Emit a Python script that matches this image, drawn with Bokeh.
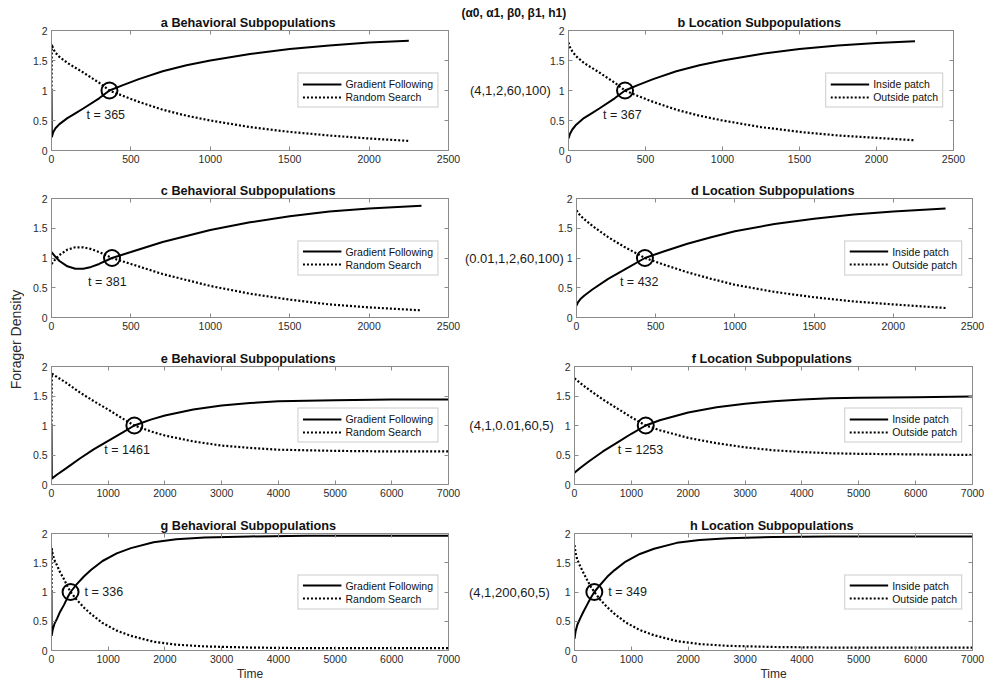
from math import pi
from bokeh.plotting import figure
from bokeh.models import Range1d, LinearAxis, FixedTicker, NumeralTickFormatter, Label, Title
from bokeh.layouts import row, column
from bokeh.core.properties import value
from bokeh.embed import file_html
from bokeh.resources import INLINE

# ---------------- data ----------------
HEADER = "(\u03b10, \u03b11, \u03b20, \u03b21, h1)"
PARAMS = ["(4,1,2,60,100)", "(0.01,1,2,60,100)", "(4,1,0.01,60,5)", "(4,1,200,60,5)"]
TITLES = ["a  Behavioral Subpopulations", "b  Location Subpopulations",
          "c  Behavioral Subpopulations", "d  Location Subpopulations",
          "e  Behavioral Subpopulations", "f  Location Subpopulations",
          "g  Behavioral Subpopulations", "h  Location Subpopulations"]
LEGEND_BEHAV = ["Gradient Following", "Random Search"]
LEGEND_LOC = ["Inside patch", "Outside patch"]
Y_TICKS = [0, 0.5, 1, 1.5, 2]
X_TICKS_SHORT = [0, 500, 1000, 1500, 2000, 2500]
X_TICKS_LONG = [0, 1000, 2000, 3000, 4000, 5000, 6000, 7000]
X_MAX = [2500, 2500, 2500, 2500, 7000, 7000, 7000, 7000]
CROSS_T = [365, 367, 381, 432, 1461, 1253, 336, 349]
CROSS_Y = [1, 1, 1, 1, 1, 1, 1, 1]

T_A = [0, 2, 10, 25, 50, 100, 150, 200, 300, 365, 450, 550, 700, 850, 1000, 1250, 1500, 1750, 2000, 2250]
GF_A = [1.0, 0.22, 0.30, 0.37, 0.44, 0.54, 0.62, 0.70, 0.87, 1.0, 1.09, 1.19, 1.32, 1.42, 1.50, 1.61, 1.69, 1.75, 1.80, 1.83]
RS_A = [1.0, 1.77, 1.70, 1.63, 1.56, 1.46, 1.38, 1.30, 1.13, 1.0, 0.91, 0.81, 0.68, 0.58, 0.50, 0.39, 0.31, 0.25, 0.20, 0.16]

T_B = [0, 10, 25, 50, 100, 150, 200, 300, 367, 450, 550, 700, 850, 1000, 1250, 1500, 1750, 2000, 2250]
IN_B = [0.2, 0.28, 0.35, 0.43, 0.54, 0.62, 0.70, 0.87, 1.0, 1.09, 1.19, 1.32, 1.42, 1.50, 1.61, 1.69, 1.75, 1.79, 1.82]
OUT_B = [1.8, 1.72, 1.65, 1.57, 1.46, 1.38, 1.30, 1.13, 1.0, 0.91, 0.81, 0.68, 0.58, 0.50, 0.39, 0.31, 0.25, 0.21, 0.17]

T_C = [0, 25, 50, 100, 150, 200, 250, 300, 381, 500, 700, 1000, 1250, 1500, 1750, 2000, 2330]
GF_C = [1.10, 1.02, 0.95, 0.86, 0.82, 0.82, 0.85, 0.90, 1.0, 1.10, 1.27, 1.47, 1.60, 1.70, 1.78, 1.83, 1.88]
RS_C = [0.90, 0.98, 1.05, 1.14, 1.18, 1.18, 1.15, 1.10, 1.0, 0.90, 0.73, 0.53, 0.40, 0.30, 0.22, 0.17, 0.12]

T_D = [0, 10, 25, 50, 100, 200, 300, 432, 550, 700, 850, 1000, 1250, 1500, 1750, 2000, 2330]
IN_D = [0.2, 0.26, 0.31, 0.37, 0.47, 0.65, 0.80, 1.0, 1.11, 1.24, 1.35, 1.45, 1.57, 1.66, 1.73, 1.78, 1.83]
OUT_D = [1.8, 1.76, 1.71, 1.65, 1.54, 1.35, 1.19, 1.0, 0.89, 0.76, 0.65, 0.55, 0.43, 0.34, 0.27, 0.22, 0.16]

T_E = [0, 5, 100, 250, 500, 750, 1000, 1250, 1461, 1750, 2000, 2500, 3000, 3500, 4000, 4500, 5000, 6000, 7000]
GF_E = [1.0, 0.10, 0.17, 0.27, 0.44, 0.60, 0.74, 0.88, 1.0, 1.10, 1.17, 1.27, 1.34, 1.38, 1.41, 1.42, 1.43, 1.44, 1.44]
RS_E = [1.0, 1.88, 1.82, 1.73, 1.56, 1.41, 1.27, 1.12, 1.0, 0.90, 0.83, 0.73, 0.66, 0.62, 0.59, 0.58, 0.57, 0.56, 0.56]

T_F = [0, 100, 250, 500, 750, 1000, 1253, 1500, 2000, 2500, 3000, 3500, 4000, 4500, 5000, 6000, 7000]
IN_F = [0.2, 0.28, 0.39, 0.56, 0.71, 0.86, 1.0, 1.09, 1.22, 1.31, 1.37, 1.41, 1.44, 1.46, 1.47, 1.48, 1.49]
OUT_F = [1.8, 1.72, 1.61, 1.44, 1.29, 1.14, 1.0, 0.92, 0.79, 0.70, 0.63, 0.58, 0.55, 0.53, 0.52, 0.51, 0.50]

T_G = [0, 3, 20, 50, 100, 150, 220, 280, 336, 450, 575, 700, 900, 1150, 1400, 1800, 2200, 2700, 3500, 4500, 5500, 7000]
GF_G = [1.0, 0.25, 0.35, 0.45, 0.55, 0.66, 0.78, 0.90, 1.0, 1.14, 1.27, 1.38, 1.53, 1.66, 1.75, 1.85, 1.90, 1.93, 1.95, 1.96, 1.96, 1.96]
RS_G = [1.0, 1.75, 1.65, 1.55, 1.45, 1.34, 1.22, 1.10, 1.0, 0.86, 0.73, 0.62, 0.47, 0.34, 0.25, 0.15, 0.10, 0.07, 0.05, 0.04, 0.04, 0.04]

T_H = [0, 20, 50, 100, 150, 220, 280, 349, 450, 575, 700, 900, 1150, 1400, 1800, 2200, 2700, 3500, 4500, 5500, 7000]
IN_H = [0.2, 0.33, 0.44, 0.55, 0.65, 0.78, 0.89, 1.0, 1.12, 1.26, 1.37, 1.52, 1.65, 1.74, 1.84, 1.89, 1.92, 1.94, 1.95, 1.95, 1.95]
OUT_H = [1.8, 1.66, 1.55, 1.44, 1.34, 1.21, 1.10, 1.0, 0.87, 0.74, 0.63, 0.48, 0.35, 0.26, 0.16, 0.11, 0.08, 0.06, 0.05, 0.05, 0.05]

SERIES = [(T_A, GF_A, RS_A), (T_B, IN_B, OUT_B), (T_C, GF_C, RS_C), (T_D, IN_D, OUT_D),
          (T_E, GF_E, RS_E), (T_F, IN_F, OUT_F), (T_G, GF_G, RS_G), (T_H, IN_H, OUT_H)]

# ---------------- styling / layout ----------------
FONT = "Liberation Sans"
AX = "#8a8a8a"
LBL = "#2b2b2b"
# (top border, frame height, bottom border) per row
ROW_GEOM = [(30, 120, 24), (24, 119, 24), (25, 118, 24), (25, 118, 32)]
YLAB_W = 24
LEFT_GEOM = (27, 397, 13)                       # left column: border_l, frame_w, border_r
RIGHT_GEOM = [(107, 385, 32), (113, 398, 13), (113, 398, 13), (113, 398, 13)]
PARAM_STANDOFF = [-4, -9, -1, 3]
T_OFF = [(-23, -24), (-22, -24), (-24, -24), (-25, -24), (-30, -24), (-28, -24), (14, 0), (14, 0)]


def style_axis(ax, ticks, show_labels=True):
    ax.ticker = FixedTicker(ticks=ticks)
    ax.formatter = NumeralTickFormatter(format="0.[0]")
    ax.axis_line_color = AX
    ax.major_tick_line_color = AX
    ax.minor_tick_line_color = None
    ax.major_tick_in = 4
    ax.major_tick_out = 0
    if show_labels:
        ax.major_label_text_font = FONT
        ax.major_label_text_font_size = "10.5px"
        ax.major_label_text_color = LBL
        ax.major_label_standoff = 4
    else:
        ax.major_label_text_font_size = "0px"
        ax.major_label_standoff = 0
        ax.major_label_text_alpha = 0


def title_obj(text, size="12.7px", **kw):
    return Title(text=text, text_font=FONT, text_font_size=size, text_font_style="bold",
                 text_color="#111111", **kw)


def make_panel(i):
    r, c = divmod(i, 2)
    last = (r == 3)
    bt, fh, bb = ROW_GEOM[r]
    bl, fw, br = LEFT_GEOM if c == 0 else RIGHT_GEOM[r]
    w = bl + fw + br
    h = bt + fh + bb
    xmax = X_MAX[i]
    xt = X_TICKS_SHORT if xmax == 2500 else X_TICKS_LONG
    header_panel = (i == 1)
    p = figure(width=w, height=h, min_border_left=bl, min_border_right=br,
               min_border_top=bt, min_border_bottom=bb,
               x_range=Range1d(0, xmax), y_range=Range1d(0, 2),
               title=None if header_panel else TITLES[i],
               output_backend="svg", toolbar_location=None,
               background_fill_color="white", border_fill_color="white")
    p.grid.visible = False
    p.outline_line_color = AX
    if not header_panel:
        p.title.text_font = FONT
        p.title.text_font_size = "12.7px"
        p.title.text_font_style = "bold"
        p.title.text_color = "#111111"
        p.title.align = "center"
        p.title.standoff = 2
    style_axis(p.xaxis[0], xt)
    style_axis(p.yaxis[0], Y_TICKS)
    if last:
        p.xaxis[0].axis_label = "Time"
        p.xaxis[0].axis_label_text_font = FONT
        p.xaxis[0].axis_label_text_font_size = "12px"
        p.xaxis[0].axis_label_text_font_style = "normal"
        p.xaxis[0].axis_label_text_color = LBL
        p.xaxis[0].axis_label_standoff = 1
    top = LinearAxis()
    style_axis(top, xt, show_labels=False)
    p.add_layout(top, "above")
    right = LinearAxis()
    style_axis(right, Y_TICKS, show_labels=False)
    p.add_layout(right, "right")
    if header_panel:
        p.add_layout(title_obj(TITLES[i], align="center", standoff=2), "above")
        p.add_layout(title_obj(HEADER, size="12px", align="left", offset=-bl, standoff=-14),
                     "above")

    if c == 1:
        ya = p.yaxis[0]
        ya.axis_label = PARAMS[r]
        ya.axis_label_orientation = "horizontal"
        ya.axis_label_text_font = FONT
        ya.axis_label_text_font_size = "13px"
        ya.axis_label_text_font_style = "normal"
        ya.axis_label_text_color = "#1a1a1a"
        ya.axis_label_standoff = PARAM_STANDOFF[r]

    t, s1, s2 = SERIES[i]
    names = LEGEND_BEHAV if c == 0 else LEGEND_LOC
    p.line(t, s1, line_color="black", line_width=2, legend_label=names[0])
    p.line(t, s2, line_color="black", line_width=2.2, line_dash="2 2", legend_label=names[1])
    p.scatter([CROSS_T[i]], [CROSS_Y[i]], marker="circle", size=16, fill_color=None,
              line_color="black", line_width=2)
    ox, oy = T_OFF[i]
    p.add_layout(Label(x=CROSS_T[i], y=CROSS_Y[i], x_offset=ox, y_offset=oy,
                       text="t = %d" % CROSS_T[i], text_align="left", text_baseline="middle",
                       text_font=FONT, text_font_size="12.5px", text_color="#1a1a1a"))

    lg = p.legend[0]
    lg.location = "right"
    lg.margin = 10
    lg.padding = 4
    lg.spacing = 1
    lg.glyph_width = 39
    lg.glyph_height = 11
    lg.label_height = 11
    lg.label_standoff = 4
    lg.label_text_font = FONT
    lg.label_text_font_size = "10.5px"
    lg.label_text_color = "#111111"
    lg.border_line_color = "#9a9a9a"
    lg.border_line_width = 1
    lg.background_fill_color = "white"
    lg.background_fill_alpha = 1
    return p


panels = [make_panel(i) for i in range(8)]
rows = [row(panels[2 * k], panels[2 * k + 1]) for k in range(4)]
grid = column(*rows)

TOTAL_H = sum(sum(g) for g in ROW_GEOM)
ylab = figure(width=YLAB_W, height=TOTAL_H, x_range=Range1d(0, YLAB_W), y_range=Range1d(0, TOTAL_H),
              min_border=0, x_axis_type=None, y_axis_type=None, output_backend="svg",
              toolbar_location=None, outline_line_color=None,
              background_fill_color="white", border_fill_color="white")
ylab.grid.visible = False
ylab.text(x=[15], y=[TOTAL_H - 339], text=["Forager Density"], angle=pi / 2,
          text_align="center", text_baseline="middle", text_font=value(FONT),
          text_font_size=value("14px"), text_color="#2b2b2b")

layout = row(ylab, grid)
open("out.html", "w").write(file_html(layout, INLINE))
